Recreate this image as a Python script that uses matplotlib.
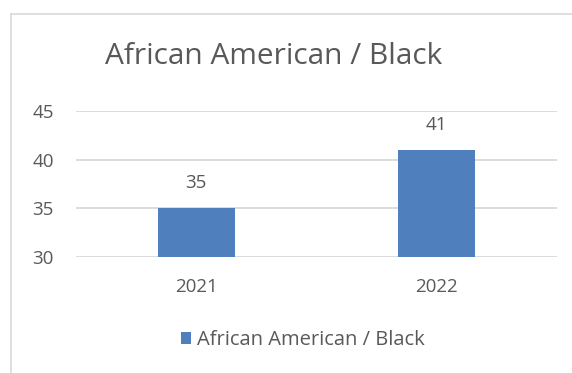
import matplotlib.pyplot as plt
from matplotlib.lines import Line2D
from matplotlib.patches import Patch

years = ["2021", "2022"]
values = [35, 41]
series_name = "African American / Black"
yticks = [30, 35, 40, 45]

bar_color = "#4f7fbd"
text_color = "#595959"
grid_color = "#d9d9d9"

plt.rcParams["font.family"] = ["Open Sans", "DejaVu Sans"]

fig = plt.figure(figsize=(5.72, 3.73), dpi=100)
ax = fig.add_axes([76 / 572, 1 - 257 / 373, (557 - 76) / 572, (257 - 111) / 373])

x = list(range(len(years)))
ax.bar(x, values, width=0.32, color=bar_color, zorder=3)
ax.set_xlim(-0.5, len(years) - 0.5)
ax.set_ylim(30, 45)
ax.set_yticks(yticks)
ax.set_xticks(x)
ax.set_xticklabels(years)
ax.tick_params(axis="both", length=0, colors=text_color, labelsize=13.5)
ax.tick_params(axis="y", pad=16)
ax.tick_params(axis="x", pad=15)
ax.grid(axis="y", color=grid_color, linewidth=1.3, zorder=0)
for s in ax.spines.values():
    s.set_visible(False)

for xi, v in zip(x, values):
    ax.annotate(str(v), (xi, v), xytext=(0, 18), textcoords="offset points",
                ha="center", va="center", fontsize=13.5, color=text_color)

fig.text(274 / 572, 1 - 57 / 373, series_name, ha="center", va="center",
         fontsize=21.5, color=text_color)

handles = [Patch(facecolor=bar_color, label=series_name)]
fig.legend(handles=handles, loc="center", bbox_to_anchor=(303 / 572, 1 - 340 / 373),
           frameon=False, fontsize=14.5, labelcolor=text_color,
           handlelength=0.5, handleheight=0.5, handletextpad=0.3)

# chart frame (left and top edges)
fig.add_artist(Line2D([11 / 572, 11 / 572], [0, 1 - 14 / 373], color=grid_color, linewidth=1.2))
fig.add_artist(Line2D([11 / 572, 1], [1 - 14 / 373, 1 - 14 / 373], color=grid_color, linewidth=1.2))

fig.savefig("out.png", dpi=100)
